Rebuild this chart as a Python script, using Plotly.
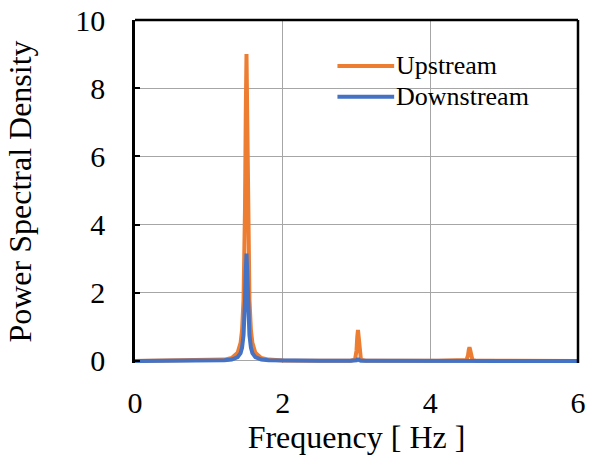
import plotly.graph_objects as go

# Frequency samples [Hz]
freq = [0.0, 0.5, 1.0, 1.21, 1.31, 1.39, 1.43, 1.45, 1.47, 1.48, 1.49, 1.50, 1.51,
        1.52, 1.53, 1.54, 1.55, 1.57, 1.59, 1.63, 1.71, 1.81, 2.01, 2.5, 2.92,
        2.98, 3.00, 3.01, 3.02, 3.03, 3.04, 3.06, 3.12, 3.6, 4.1, 4.49, 4.51,
        4.52, 4.53, 4.54, 4.55, 4.57, 4.63, 5.0, 5.5, 6.0]

# Power spectral density, upstream
upstream = [0.0, 0.005, 0.015, 0.04, 0.09, 0.24, 0.53, 0.9, 1.8, 2.77, 4.5, 7.2, 9.0,
            7.2, 4.5, 2.77, 1.8, 0.9, 0.53, 0.24, 0.09, 0.04, 0.015, 0.005, 0.005,
            0.04, 0.3, 0.7, 0.91, 0.7, 0.3, 0.04, 0.005, 0.003, 0.003, 0.03, 0.16,
            0.32, 0.40, 0.32, 0.16, 0.03, 0.003, 0.002, 0.002, 0.002]

# Power spectral density, downstream
downstream = [0.0, 0.003, 0.007, 0.02, 0.04, 0.11, 0.23, 0.39, 0.76, 1.13, 1.75, 2.6, 3.15,
              2.6, 1.75, 1.13, 0.76, 0.39, 0.23, 0.11, 0.04, 0.02, 0.007, 0.003, 0.003,
              0.005, 0.02, 0.04, 0.05, 0.04, 0.02, 0.005, 0.003, 0.002, 0.002, 0.002, 0.005,
              0.01, 0.015, 0.01, 0.005, 0.002, 0.002, 0.001, 0.001, 0.001]

x_ticks = [0, 2, 4, 6]
y_ticks = [0, 2, 4, 6, 8, 10]

ORANGE = "#ED7D31"
BLUE = "#4472C4"
FONT = "Liberation Serif"

fig = go.Figure()
fig.add_trace(go.Scatter(x=freq, y=upstream, mode="lines", name="Upstream",
                         line=dict(color=ORANGE, width=4), showlegend=False))
fig.add_trace(go.Scatter(x=freq, y=downstream, mode="lines", name="Downstream",
                         line=dict(color=BLUE, width=4), showlegend=False))

# frame (top, right); left is the y axis line
fig.add_shape(type="line", xref="paper", yref="paper", x0=0, x1=1, y0=1, y1=1,
              line=dict(color="black", width=2.5))
fig.add_shape(type="line", xref="paper", yref="paper", x0=1, x1=1, y0=0, y1=1,
              line=dict(color="black", width=2.5))

# custom legend
legend_items = [("Upstream", ORANGE, 0.866), ("Downstream", BLUE, 0.776)]
for name, col, yy in legend_items:
    fig.add_shape(type="line", xref="paper", yref="paper", x0=0.457, x1=0.585,
                  y0=yy, y1=yy, line=dict(color=col, width=4))
    fig.add_annotation(xref="paper", yref="paper", x=0.585, y=yy, text=name,
                       showarrow=False, xanchor="left", yanchor="middle",
                       font=dict(family=FONT, size=26, color="black"))

fig.update_layout(
    width=589, height=459,
    margin=dict(l=135, r=11, t=20, b=96),
    paper_bgcolor="white", plot_bgcolor="white",
    font=dict(family=FONT, size=30, color="black"),
    showlegend=False,
)
fig.update_xaxes(range=[0, 6], tickvals=x_ticks, showgrid=True, gridcolor="#a6a6a6",
                 gridwidth=1, zeroline=False, showline=False, automargin=False,
                 ticks="", ticklabelstandoff=19, ticklabeloverflow="allow",
                 tickfont=dict(size=30),
                 title=dict(text="Frequency [ Hz ]", font=dict(size=32), standoff=6))
fig.update_yaxes(range=[-0.06, 10], tickvals=y_ticks, showgrid=True, gridcolor="#a6a6a6",
                 gridwidth=1, zeroline=False, showline=True, linecolor="black", linewidth=2.5,
                 automargin=False,
                 ticks="inside", ticklen=5, tickwidth=2, tickcolor="black",
                 ticklabelstandoff=21, ticklabeloverflow="allow",
                 tickfont=dict(size=30),
                 title=dict(text="Power Spectral Density", font=dict(size=32), standoff=35))

fig.write_html("out.html", config={"displayModeBar": False},
               post_script="document.body.style.margin='0';document.body.style.overflow='hidden';")
